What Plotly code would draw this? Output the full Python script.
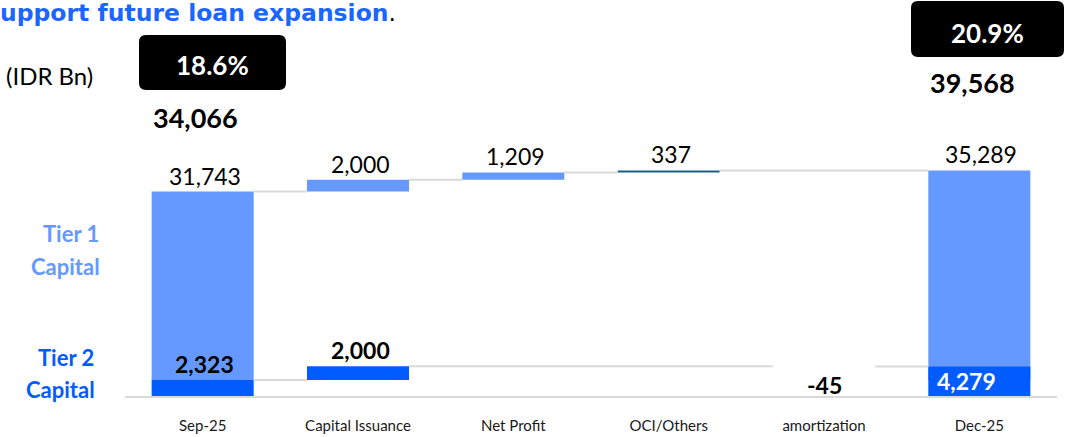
import plotly.graph_objects as go

# ---------------- data ----------------
categories = ["Sep-25", "Capital Issuance", "Net Profit", "OCI/Others", "amortization", "Dec-25"]
measures = ["absolute", "relative", "relative", "relative", "relative", "total"]
tier1_values = [31743, 2000, 1209, 337, None, 35289]
tier2_values = [2323, 2000, None, None, -45, 4279]
car_ratio = ["18.6%", "20.9%"]
title_text = "upport future loan expansion"
unit_text = "(IDR Bn)"

# ---------------- style ----------------
LIGHT = "#6699FF"
DARK = "#005CFF"
TEAL = "#1B5E86"
GREY = "#D9D9D9"
FONT = "Lato"
W, H = 1066, 437
L, R, T, B = 125, 9, 140, 41
PW, PH = W - L - R, H - T - B
HW = 0.3285  # half bar width in category units


def px(x):
    return (x - L) / PW


def py(y):
    return (H - B - y) / PH


def waterfall(values):
    xs, bases, heights, conns = [], [], [], []
    run = 0
    prev = None
    for i, (v, m) in enumerate(zip(values, measures)):
        if v is None:
            continue
        if m == "absolute" or m == "total":
            base = 0
            end = v
        else:
            base = run
            end = run + v
        if prev is not None:
            conns.append((prev, i, run))
        xs.append(i)
        bases.append(base)
        heights.append(v)
        run = end
        prev = i
    return xs, bases, heights, conns


t1x, t1b, t1h, t1c = waterfall(tier1_values)
t2x, t2b, t2h, t2c = waterfall(tier2_values)

fig = go.Figure()

t1_colors = [TEAL if categories[i] == "OCI/Others" else LIGHT for i in t1x]
fig.add_trace(go.Bar(x=t1x, y=t1h, base=t1b, width=2 * HW, marker=dict(color=t1_colors, line=dict(width=0)),
                     yaxis="y", showlegend=False, hoverinfo="skip"))


def conn_xy(conns):
    cx, cy = [], []
    for a, b, lvl in conns:
        cx += [a + HW, b - HW, None]
        cy += [lvl, lvl, None]
    return cx, cy


cx, cy = conn_xy(t1c)
fig.add_trace(go.Scatter(x=cx, y=cy, mode="lines", line=dict(color=GREY, width=2), yaxis="y",
                         showlegend=False, hoverinfo="skip"))

t2_colors = [DARK if h > 0 else "rgba(0,0,0,0)" for h in t2h]
fig.add_trace(go.Bar(x=t2x, y=t2h, base=t2b, width=2 * HW, marker=dict(color=t2_colors, line=dict(width=0)),
                     yaxis="y2", showlegend=False, hoverinfo="skip"))
cx, cy = conn_xy(t2c)
fig.add_trace(go.Scatter(x=cx, y=cy, mode="lines", line=dict(color=GREY, width=2), yaxis="y2",
                         showlegend=False, hoverinfo="skip"))

ann = []
# Tier 1 value labels
for i, b, h in zip(t1x, t1b, t1h):
    ann.append(dict(x=i, y=b + h, xref="x", yref="y", text=f"{h:,}", showarrow=False,
                    xanchor="center", yanchor="bottom", xshift=2, yshift=0,
                    font=dict(family=FONT, size=23, color="#000")))
# Tier 2 value labels
for i, b, h in zip(t2x, t2b, t2h):
    cat = categories[i]
    if cat == "Dec-25":
        ann.append(dict(x=i, y=h / 2, xref="x", yref="y2", text=f"<b>{h:,}</b>", showarrow=False,
                        xanchor="center", yanchor="middle", xshift=-13,
                        font=dict(family=FONT, size=23, color="#fff")))
    elif h < 0:
        ann.append(dict(x=i, y=0, xref="x", yref="y2", text=f"<b>{h:,}</b>", showarrow=False,
                        xanchor="center", yanchor="bottom", yshift=-5,
                        font=dict(family=FONT, size=23, color="#000")))
    else:
        ann.append(dict(x=i, y=b + h, xref="x", yref="y2", text=f"<b>{h:,}</b>", showarrow=False,
                        xanchor="center", yanchor="bottom", xshift=2, yshift=0,
                        font=dict(family=FONT, size=23, color="#000")))

start_total = tier1_values[0] + tier2_values[0]
end_total = tier1_values[-1] + tier2_values[-1]


def pann(x, y, text, size, color, xanchor="center", family=FONT):
    return dict(x=px(x), y=py(y), xref="paper", yref="paper", text=text, showarrow=False,
                xanchor=xanchor, yanchor="middle", font=dict(family=family, size=size, color=color))


ann += [
    pann(212, 65, f"<b>{car_ratio[0]}</b>", 26, "#fff"),
    pann(987, 33, f"<b>{car_ratio[1]}</b>", 26, "#fff"),
    pann(195, 117, f"<b>{start_total:,}</b>", 27, "#000"),
    pann(972, 82, f"<b>{end_total:,}</b>", 27, "#000"),
    pann(4, 75, unit_text, 24, "#000", xanchor="left"),
    pann(-2, 13, f"<b>{title_text}</b><span style='color:#000'>.</span>", 23.5, "#1A66FF",
         xanchor="left", family="DejaVu Sans"),
    pann(101, 233, "<b>Tier 1</b>", 22, LIGHT, xanchor="right"),
    pann(102, 266, "<b>Capital</b>", 22, LIGHT, xanchor="right"),
    pann(96, 357, "<b>Tier 2</b>", 22, DARK, xanchor="right"),
    pann(97, 389, "<b>Capital</b>", 22, DARK, xanchor="right"),
]


def rrect(x0, y0, x1, y1, r):
    pts = [("M", [(x0 + r, y0)]), ("L", [(x1 - r, y0)]), ("Q", [(x1, y0), (x1, y0 + r)]),
           ("L", [(x1, y1 - r)]), ("Q", [(x1, y1), (x1 - r, y1)]), ("L", [(x0 + r, y1)]),
           ("Q", [(x0, y1), (x0, y1 - r)]), ("L", [(x0, y0 + r)]), ("Q", [(x0, y0), (x0 + r, y0)])]
    s = ""
    for cmd, ps in pts:
        s += cmd + " " + " ".join(f"{px(a):.5f},{py(b):.5f}" for a, b in ps) + " "
    return s + "Z"


shapes = [
    dict(type="path", xref="paper", yref="paper", path=rrect(139, 35, 286, 90, 7), fillcolor="#000",
         line=dict(width=0), layer="below"),
    dict(type="path", xref="paper", yref="paper", path=rrect(911, 1, 1064, 57, 7), fillcolor="#000",
         line=dict(width=0), layer="below"),
]

fig.update_layout(
    width=W, height=H,
    margin=dict(l=L, r=R, t=T, b=B, pad=0, autoexpand=False),
    paper_bgcolor="#fff", plot_bgcolor="#fff",
    barmode="overlay",
    xaxis=dict(range=[-0.5, 5.5], tickmode="array", tickvals=list(range(len(categories))),
               ticktext=categories, showgrid=False, zeroline=False, showline=True, linecolor=GREY,
               linewidth=2, ticks="", ticklabelstandoff=15, automargin=False,
               tickfont=dict(family=FONT, size=15, color="#1a1a1a")),
    yaxis=dict(range=[-2694, 40417], visible=False, showgrid=False, zeroline=False, automargin=False),
    yaxis2=dict(range=[0, 37167], overlaying="y", side="right", visible=False, showgrid=False,
                zeroline=False, automargin=False),
    annotations=ann,
    shapes=shapes,
    showlegend=False,
)

fig.write_html("out.html", config={"displayModeBar": False, "staticPlot": True},
               post_script="document.body.style.margin='0';document.body.style.overflow='hidden';")
